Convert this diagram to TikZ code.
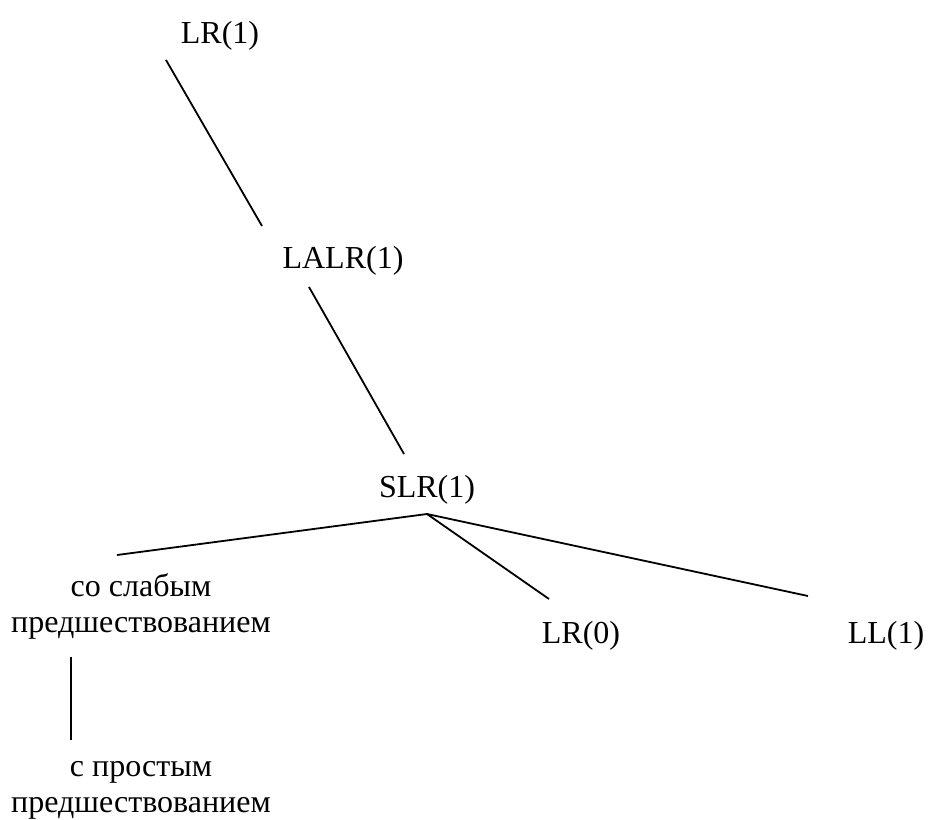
\documentclass[tikz,border=0pt]{standalone}
\usepackage{fontspec}
\setmainfont{Liberation Serif}
\begin{document}
\begin{tikzpicture}[x=1pt,y=-1pt,
  lbl/.style={font=\fontsize{32}{36}\selectfont, inner sep=0pt, anchor=base, align=center},
  conn/.style={draw=black, line width=1.8pt}]
\useasboundingbox (0,0) rectangle (930,820);
\node[lbl] (lr1) at (220,43) {LR(1)};
\node[lbl] (lalr) at (343,268) {LALR(1)};
\node[lbl] (slr) at (427,497) {SLR(1)};
\node[lbl] (weak) at (141,632) {со слабым\\предшествованием};
\node[lbl] (lr0) at (581,643) {LR(0)};
\node[lbl] (ll1) at (886,643) {LL(1)};
\node[lbl] (simple) at (141,812) {с простым\\предшествованием};
\coordinate (a1) at (166,60);
\coordinate (a2) at (262,226);
\coordinate (b1) at (309,287);
\coordinate (b2) at (404,454);
\coordinate (s) at (427,514);
\coordinate (cw) at (117,555);
\coordinate (c0) at (549,599);
\coordinate (cl) at (808,596);
\coordinate (d1) at (71,657);
\coordinate (d2) at (71,740);
\draw[conn] (a1) -- (a2);
\draw[conn] (b1) -- (b2);
\draw[conn] (s) -- (cw);
\draw[conn] (s) -- (c0);
\draw[conn] (s) -- (cl);
\draw[conn] (d1) -- (d2);
\end{tikzpicture}
\end{document}
